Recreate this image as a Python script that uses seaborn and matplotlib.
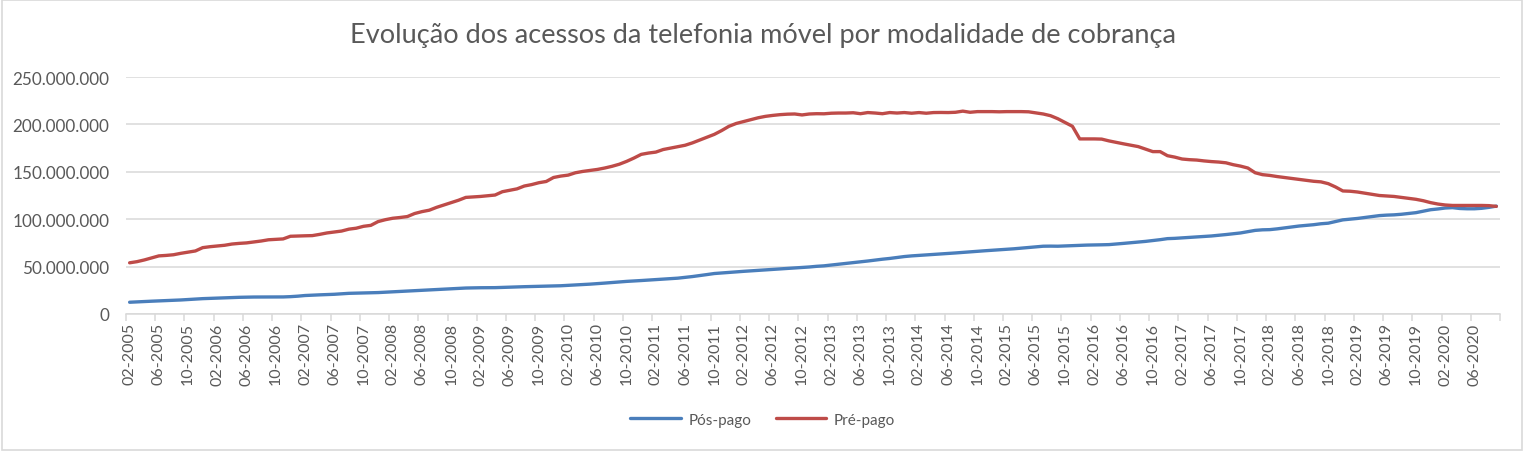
import pandas as pd
import numpy as np
import matplotlib
matplotlib.use("Agg")
import matplotlib.pyplot as plt
import matplotlib.ticker as mticker
from matplotlib.patches import Rectangle
import seaborn as sns

# ------------------------------------------------------------
# Dados (milhões de acessos), mensal de 02-2005 a 09-2020
# ------------------------------------------------------------
pos_pago = [
    # 2005 (fev-dez)
    12.4, 12.8, 13.2, 13.5, 13.8, 14.0, 14.3, 14.8, 15.3, 15.8, 16.2,
    # 2006
    16.5, 16.8, 17.0, 17.3, 17.6, 17.8, 17.9, 17.9, 18.0, 18.0, 18.0, 18.3,
    # 2007
    18.8, 19.5, 19.9, 20.2, 20.5, 20.8, 21.3, 21.8, 22.0, 22.2, 22.3, 22.6,
    # 2008
    23.0, 23.3, 23.7, 24.2, 24.5, 24.9, 25.4, 25.9, 26.3, 26.7, 27.1, 27.4,
    # 2009
    27.6, 27.7, 27.7, 27.8, 28.0, 28.3, 28.6, 28.8, 29.0, 29.1, 29.3, 29.5,
    # 2010
    29.8, 30.2, 30.7, 31.1, 31.5, 32.0, 32.6, 33.2, 33.8, 34.4, 34.8, 35.3,
    # 2011
    35.8, 36.3, 36.8, 37.3, 37.8, 38.6, 39.5, 40.5, 41.6, 42.7, 43.3, 43.9,
    # 2012
    44.5, 45.0, 45.5, 46.0, 46.6, 47.1, 47.5, 47.9, 48.4, 49.0, 49.6, 50.3,
    # 2013
    50.8, 51.6, 52.5, 53.4, 54.2, 55.0, 55.9, 56.9, 57.8, 58.6, 59.6, 60.6,
    # 2014
    61.3, 61.8, 62.3, 62.8, 63.3, 63.8, 64.4, 65.0, 65.6, 66.2, 66.7, 67.2,
    # 2015
    67.7, 68.2, 68.8, 69.5, 70.3, 71.0, 71.5, 71.6, 71.5, 71.8, 72.0, 72.5,
    # 2016
    72.7, 72.8, 73.0, 73.2, 73.8, 74.5, 75.2, 76.0, 76.6, 77.5, 78.4, 79.5,
    # 2017
    79.8, 80.3, 80.8, 81.2, 81.7, 82.3, 83.0, 83.8, 84.6, 85.5, 86.8, 88.2,
    # 2018
    88.8, 89.0, 89.8, 90.8, 91.8, 92.8, 93.5, 94.2, 95.2, 95.8, 97.5, 99.3,
    # 2019
    100.0, 100.8, 101.8, 102.8, 103.8, 104.3, 104.6, 105.2, 106.0, 106.9, 108.5, 110.0,
    # 2020 (jan-set)
    110.8, 111.8, 112.2, 111.3, 111.0, 111.0, 111.5, 112.5, 113.8,
]

pre_pago = [
    # 2005 (fev-dez)
    54.0, 55.2, 57.0, 59.2, 61.3, 61.8, 62.5, 64.0, 65.2, 66.5, 70.0,
    # 2006
    71.0, 71.8, 72.5, 73.8, 74.5, 75.0, 76.0, 77.0, 78.3, 78.8, 79.2, 82.0,
    # 2007
    82.3, 82.5, 82.7, 84.0, 85.5, 86.5, 87.5, 89.5, 90.5, 92.5, 93.5, 97.5,
    # 2008
    99.5, 101.0, 101.8, 102.8, 106.0, 108.0, 109.5, 112.5, 115.0, 117.5, 120.0, 123.0,
    # 2009
    123.5, 124.0, 124.8, 125.5, 129.0, 130.5, 132.0, 135.0, 136.5, 138.5, 139.8, 144.0,
    # 2010
    145.5, 146.5, 149.0, 150.4, 151.5, 152.5, 154.0, 155.8, 158.0, 161.0, 164.5, 168.4,
    # 2011
    169.8, 170.8, 173.5, 175.0, 176.5, 178.0, 180.5, 183.5, 186.5, 189.5, 193.5, 198.0,
    # 2012
    201.0, 203.0, 205.0, 207.0, 208.5, 209.5, 210.3, 210.8, 211.0, 210.0, 211.0, 211.3,
    # 2013
    211.2, 211.8, 212.0, 212.0, 212.3, 211.3, 212.5, 212.0, 211.3, 212.5, 212.0, 212.5,
    # 2014
    211.8, 212.5, 211.8, 212.5, 212.6, 212.5, 212.8, 214.0, 212.8, 213.5, 213.5, 213.5,
    # 2015
    213.3, 213.5, 213.5, 213.5, 213.3, 212.2, 211.0, 209.2, 206.0, 202.0, 198.0, 184.7,
    # 2016
    184.7, 184.7, 184.5, 182.6, 181.0, 179.5, 178.0, 176.6, 174.0, 171.3, 171.3, 167.0,
    # 2017
    165.5, 163.5, 162.8, 162.4, 161.5, 160.8, 160.3, 159.5, 157.5, 156.0, 154.0, 149.0,
    # 2018
    147.0, 146.2, 145.0, 144.0, 143.0, 142.0, 141.0, 140.0, 139.4, 137.5, 134.0, 129.8,
    # 2019
    129.5, 128.7, 127.5, 126.2, 125.0, 124.5, 124.0, 123.0, 122.0, 121.0, 119.5, 117.5,
    # 2020 (jan-set)
    116.0, 115.0, 114.5, 114.5, 114.5, 114.5, 114.5, 114.3, 113.5,
]

meses = pd.date_range("2005-02-01", periods=len(pre_pago), freq="MS").strftime("%m-%Y").tolist()
series = ["Pós-pago", "Pré-pago"]
cores = ["#4A7EBB", "#BE4B48"]

df = pd.DataFrame({
    "mes": meses * 2,
    "pos": list(range(len(meses))) * 2,
    "acessos": np.array(pos_pago + pre_pago) * 1e6,
    "modalidade": [series[0]] * len(meses) + [series[1]] * len(meses),
})

# ------------------------------------------------------------
# Gráfico
# ------------------------------------------------------------
sns.set_theme(style="white")
plt.rcParams["font.family"] = ["Lato", "DejaVu Sans"]

texto = "#595959"
grade = "#D9D9D9"

fig = plt.figure(figsize=(15.25, 4.52), dpi=100)
ax = fig.add_axes([0.0826, 0.3031, 0.9010, 0.5243])

sns.lineplot(data=df, x="pos", y="acessos", hue="modalidade", palette=cores,
             linewidth=2.4, ax=ax, legend=False)

n = len(meses)
ax.set_xlim(-0.5, n - 0.5)
ax.set_ylim(0, 250e6)
ax.set_yticks(np.arange(0, 250e6 + 1, 50e6))
ax.yaxis.set_major_formatter(mticker.FuncFormatter(lambda v, p: f"{int(v):,}".replace(",", ".")))
ax.grid(axis="y", color=grade, linewidth=1.1)
ax.set_axisbelow(True)

# rótulos a cada 4 meses, marcas nas fronteiras das categorias
ax.set_xticks(range(0, n, 4))
ax.set_xticklabels(meses[0::4], rotation=90)
ax.tick_params(axis="x", which="major", length=0, pad=6, labelsize=11.5, labelcolor=texto)
ax.set_xticks(np.arange(-0.5, n, 4), minor=True)
ax.tick_params(axis="x", which="minor", length=5, color=grade, width=1.1, bottom=True)
ax.tick_params(axis="y", length=0, pad=12, labelsize=12.3, labelcolor=texto)

ax.set_xlabel("")
ax.set_ylabel("")
for lado in ["top", "right", "left"]:
    ax.spines[lado].set_visible(False)
ax.spines["bottom"].set_color(grade)
ax.spines["bottom"].set_linewidth(1.1)

fig.suptitle("Evolução dos acessos da telefonia móvel por modalidade de cobrança",
             x=0.5, y=0.95, fontsize=19.5, color=texto)

handles = [plt.Line2D([], [], color=c, linewidth=2.4) for c in cores]
fig.legend(handles, series, loc="center", bbox_to_anchor=(0.5, 0.069), ncol=2,
           frameon=False, fontsize=11, labelcolor=texto, handlelength=3.3,
           columnspacing=1.6, handletextpad=0.5)

fig.patches.append(Rectangle((0.001, 0.002), 0.997, 0.995, transform=fig.transFigure,
                             fill=False, edgecolor=grade, linewidth=1.2))

fig.savefig("out.png", dpi=100)
